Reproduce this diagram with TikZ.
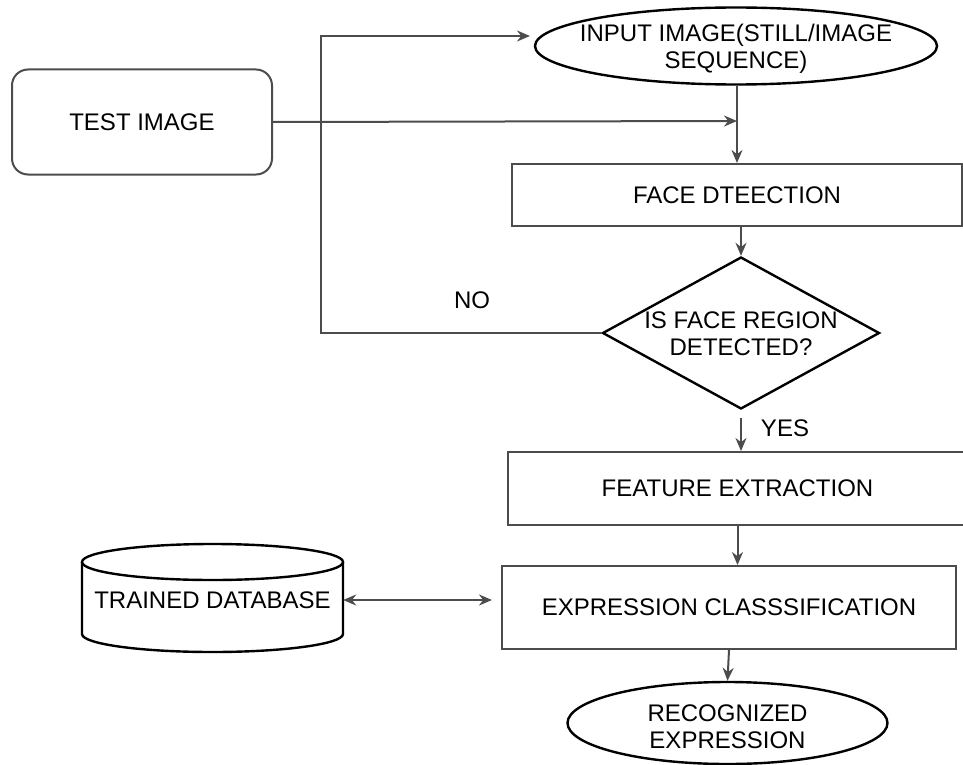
\documentclass[tikz,border=0pt]{standalone}
\usepackage{fontspec}
\setmainfont{Liberation Sans}
\usetikzlibrary{shapes.geometric,arrows.meta}
\begin{document}
\begin{tikzpicture}[x=1pt,y=-1pt,
  every node/.style={font=\fontsize{24}{27}\selectfont},
  procbox/.style={draw=black!70, line width=2pt, rectangle, inner sep=0pt},
  termin/.style={draw=black, line width=2.4pt, ellipse, inner sep=0pt},
  label/.style={align=center, inner sep=0pt},
  link/.style={draw=black!70, line width=2pt},
  arr/.style={link, -{Stealth[length=13pt,width=11pt]}},
  biarr/.style={link, {Stealth[length=13pt,width=11pt]}-{Stealth[length=13pt,width=11pt]}},
]
\useasboundingbox (0,0) rectangle (963,765);

% terminals (outline and text as separate nodes so the outline keeps its size)
\node[termin, minimum width=402pt, minimum height=77pt] (inp) at (736,46) {};
\node[label] (inptxt) at (736,49) {INPUT IMAGE(STILL/IMAGE\\SEQUENCE)};
\node[termin, minimum width=320pt, minimum height=82pt] (rec) at (727.5,723) {};
\node[label] (rectxt) at (727.5,727) {RECOGNIZED\\EXPRESSION};

% process boxes
\node[procbox, rounded corners=16pt, minimum width=260pt, minimum height=105pt] (test) at (142,122) {TEST IMAGE};
\node[procbox, minimum width=450pt, minimum height=62pt] (face) at (737,195) {FACE DTEECTION};
\node[procbox, minimum width=460pt, minimum height=73pt] (feat) at (737.5,488.5) {FEATURE EXTRACTION};
\node[procbox, minimum width=454pt, minimum height=83pt] (expr) at (729,607.5) {EXPRESSION CLASSSIFICATION};

% decision
\node[diamond, draw=black, line width=2.4pt, minimum width=277pt, minimum height=152pt, inner sep=0pt] (dia) at (741,333) {};
\node[label] (diatxt) at (741,334) {IS FACE REGION\\DETECTED?};

% database cylinder
\node[inner sep=0pt, minimum width=261pt, minimum height=108pt] (db) at (212.5,600) {TRAINED DATABASE};
\draw[black, line width=2.4pt] (212.5,562) ellipse[x radius=130.5pt, y radius=18pt];
\draw[black, line width=2.4pt] (82,562) -- (82,634)
  arc[start angle=180, end angle=360, x radius=130.5pt, y radius=18pt] -- (343,562);

% connectors
\coordinate (loopc) at (321,36);
\coordinate (noend) at (530,36);
\draw[arr] (dia.west) -| (loopc) -- (noend);
\node (no) at (472,300) {NO};

\coordinate (join) at (737,121);
\draw[arr] (test.east) -- (join);
\draw[arr] (inp.south -| face.north) -- (face.north);
\draw[arr] (dia.north |- face.south) -- (dia.north);
\draw[arr] ([yshift=-8pt]dia.south) -- (dia.south |- feat.north);
\node (yes) at (785,428) {YES};
\draw[arr] (feat.south) -- (feat.south |- expr.north);
\draw[arr] (expr.south) -- (rec.north);
\draw[biarr] (db.east) -- ([xshift=-9pt]expr.west |- db.east);
\end{tikzpicture}
\end{document}
